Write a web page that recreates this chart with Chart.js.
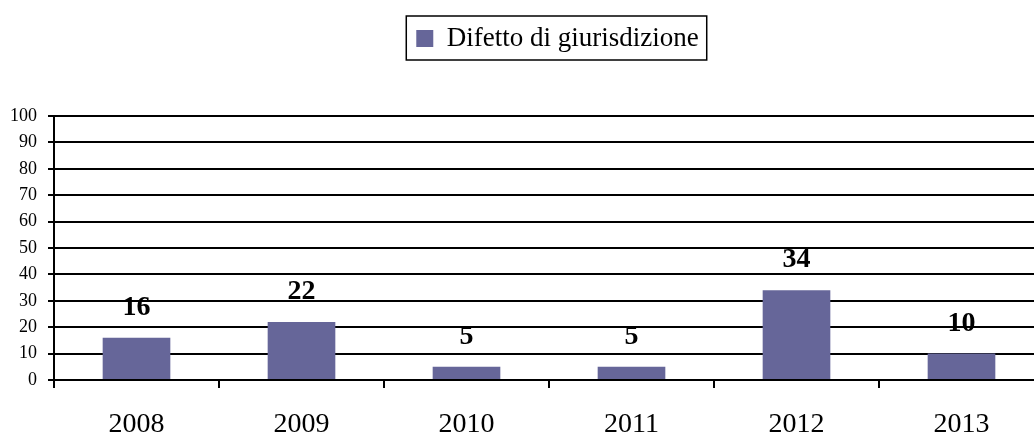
<!DOCTYPE html>
<html>
<head>
<meta charset="utf-8">
<script src="https://cdn.jsdelivr.net/npm/chart.js@4"></script>
<style>
    body { margin: 0; background: #fff; overflow: hidden; }
    #wrap { width: 1044px; height: 443px; }
</style>
</head>
<body>
<div id="wrap"><canvas id="barChart"></canvas></div>
<script>
var years = ['2008', '2009', '2010', '2011', '2012', '2013'];
var values = [16, 22, 5, 5, 34, 10];
var seriesName = 'Difetto di giurisdizione';

var serif = "'Liberation Serif', 'Times New Roman', serif";
var legendShift = 36;

// draw the numbers above the bars
var valueLabels = {
    id: 'valueLabels',
    afterDatasetsDraw: function(chart) {
        var ctx = chart.ctx;
        var meta = chart.getDatasetMeta(0);
        ctx.save();
        ctx.font = 'bold 28px ' + serif;
        ctx.fillStyle = '#000';
        ctx.textAlign = 'center';
        ctx.textBaseline = 'middle';
        meta.data.forEach(function(bar, i) {
            ctx.fillText(values[i], bar.x, bar.y - 30);
        });
        ctx.restore();
    }
};

// box round the legend, extra room under it, moved a bit right
var legendBox = {
    id: 'legendBox',
    beforeInit: function(chart) {
        var legend = chart.legend;
        var fit = legend.fit;
        legend.fit = function() {
            fit.bind(legend)();
            this.height += 54;
        };
        var draw = legend.draw;
        legend.draw = function() {
            var c = chart.ctx;
            c.save();
            c.translate(legendShift, 0);
            draw.apply(legend, arguments);
            var box = legend.legendHitBoxes[0];
            if (box) {
                c.strokeStyle = '#000';
                c.lineWidth = 1.5;
                c.strokeRect(box.left - 10, box.top - 9, box.width + 18, box.height + 17);
            }
            c.restore();
        };
    }
};

var ctx = document.getElementById('barChart').getContext('2d');
var chart1 = new Chart(ctx, {
    type: 'bar',
    data: {
        labels: years,
        datasets: [{
            label: seriesName,
            backgroundColor: '#666699',
            data: values,
            categoryPercentage: 1,
            barPercentage: 0.41
        }]
    },
    options: {
        responsive: true,
        maintainAspectRatio: false,
        animation: false,
        layout: { padding: { top: 25, left: -1, right: 0, bottom: 0 } },
        plugins: {
            tooltip: { enabled: false },
            legend: {
                position: 'top',
                labels: {
                    font: { family: serif, size: 27 },
                    color: '#000',
                    boxWidth: 17,
                    boxHeight: 17,
                    padding: 0
                }
            }
        },
        scales: {
            x: {
                offset: true,
                afterFit: function(scale) {
                    scale.height = 63;
                },
                grid: {
                    offset: true,
                    drawOnChartArea: false,
                    color: '#000',
                    lineWidth: 2,
                    tickLength: 8
                },
                border: { color: '#000', width: 2 },
                ticks: {
                    font: { family: serif, size: 28, lineHeight: 1 },
                    color: '#000',
                    padding: 23
                }
            },
            y: {
                min: 0,
                max: 100,
                ticks: {
                    stepSize: 10,
                    font: { family: serif, size: 18 },
                    color: '#000',
                    padding: 11
                },
                grid: {
                    color: '#000',
                    lineWidth: 2,
                    tickLength: 6
                },
                border: { color: '#000', width: 2 }
            }
        }
    },
    plugins: [valueLabels, legendBox]
});
</script>
</body>
</html>
